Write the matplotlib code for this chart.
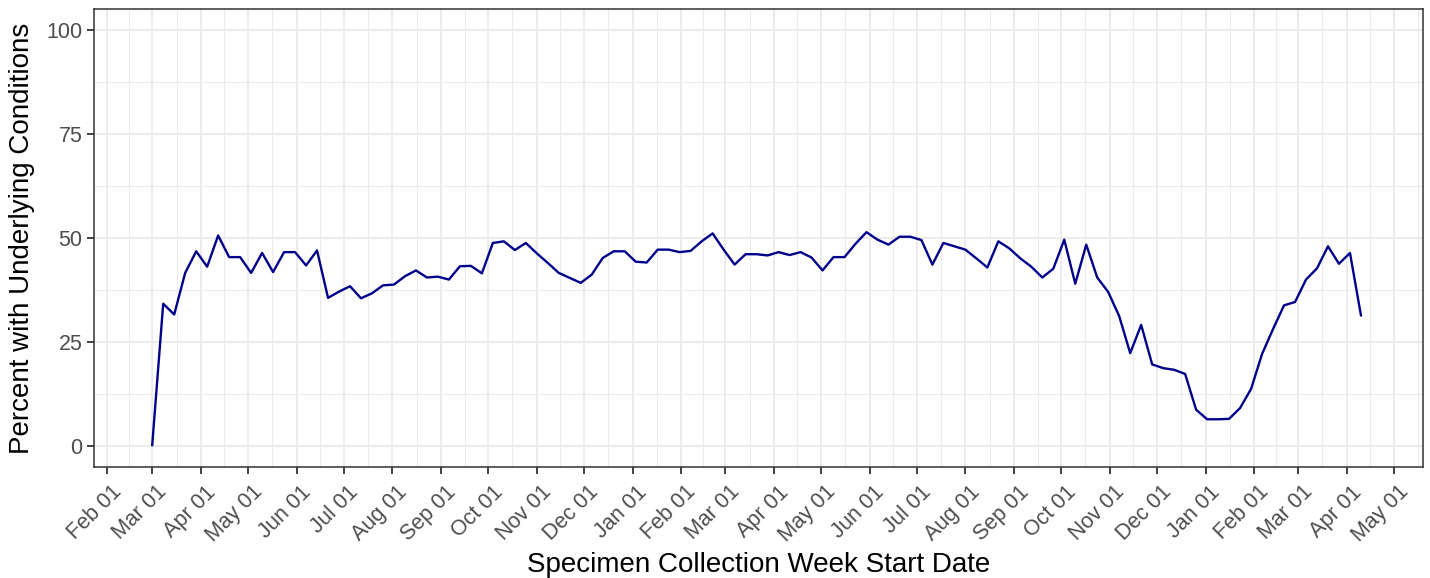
import numpy as np
import pandas as pd
import matplotlib
matplotlib.use("Agg")
import matplotlib.pyplot as plt
import matplotlib.dates as mdates
import matplotlib.transforms as mtransforms

plt.rcParams['font.family'] = ['Liberation Sans', 'DejaVu Sans']

# Weekly series, first week starting 2020-03-01
start_week = "2020-03-01"
pct_underlying = [
    0.2, 34.2, 31.6, 41.6, 46.8, 43.1, 50.6, 45.4, 45.4, 41.6,
    46.4, 41.8, 46.6, 46.6, 43.4, 47.0, 35.6, 37.1, 38.4, 35.5,
    36.7, 38.6, 38.8, 40.8, 42.2, 40.5, 40.7, 40.0, 43.2, 43.3,
    41.5, 48.8, 49.2, 47.1, 48.8, 46.3, 44.0, 41.6, 40.4, 39.2,
    41.2, 45.2, 46.8, 46.8, 44.3, 44.1, 47.2, 47.2, 46.6, 46.9,
    49.2, 51.1, 47.2, 43.6, 46.1, 46.1, 45.8, 46.6, 45.9, 46.6,
    45.3, 42.2, 45.4, 45.4, 48.6, 51.4, 49.6, 48.4, 50.3, 50.3,
    49.5, 43.6, 48.8, 48.0, 47.2, 45.1, 42.9, 49.2, 47.5, 45.1,
    43.1, 40.5, 42.6, 49.6, 39.0, 48.4, 40.5, 37.0, 31.2, 22.3,
    29.1, 19.6, 18.7, 18.3, 17.3, 8.7, 6.4, 6.4, 6.5, 9.1,
    13.7, 22.1, 28.1, 33.8, 34.6, 40.0, 42.7, 48.0, 43.8, 46.4,
    31.4,
]
weeks = pd.date_range(start_week, periods=len(pct_underlying), freq="7D")

y_ticks = [0, 25, 50, 75, 100]
y_minor = [12.5, 37.5, 62.5, 87.5]

# monthly breaks, minor grid halfway between them
month_starts = pd.date_range("2020-01-01", "2022-07-01", freq="MS")
month_mid = month_starts[:-1] + (month_starts[1:] - month_starts[:-1]) / 2

fig = plt.figure(figsize=(14.3, 5.78), dpi=100)
ax = fig.add_axes([0.0655, 0.1926, 0.9298, 0.7913])

grid_col = "#EBEBEB"
ax.set_axisbelow(True)
for yv in y_minor:
    ax.axhline(yv, color=grid_col, lw=0.8, zorder=0)
for d in month_mid:
    ax.axvline(d, color=grid_col, lw=0.8, zorder=0)
for yv in y_ticks:
    ax.axhline(yv, color=grid_col, lw=1.5, zorder=0)
for d in month_starts:
    ax.axvline(d, color=grid_col, lw=1.5, zorder=0)

ax.plot(weeks, pct_underlying, color="#00008B", lw=1.7, zorder=3)

ax.set_xlim(pd.Timestamp("2020-02-01") - pd.Timedelta(days=8.3),
            pd.Timestamp("2020-02-01") + pd.Timedelta(days=838.7))
ax.set_ylim(-5, 105)

ax.xaxis.set_major_locator(mdates.MonthLocator(bymonthday=1))
ax.xaxis.set_major_formatter(mdates.DateFormatter("%b %d"))
ax.set_yticks(y_ticks)

for s in ax.spines.values():
    s.set_color("#333333")
    s.set_linewidth(1.1)

ax.tick_params(axis="both", which="major", length=5, width=1.3,
               color="#333333", labelcolor="#4D4D4D", labelsize=15.5)
ax.tick_params(axis="x", pad=3)
ax.tick_params(axis="y", pad=3)
shift = mtransforms.ScaledTranslation(4 / 100, -4 / 100, fig.dpi_scale_trans)
for lab in ax.get_xticklabels():
    lab.set_rotation(45)
    lab.set_ha("right")
    lab.set_va("top")
    lab.set_rotation_mode("anchor")
    lab.set_transform(lab.get_transform() + shift)

ax.set_xlabel("Specimen Collection Week Start Date", fontsize=20, color="black", labelpad=4)
ax.set_ylabel("Percent with Underlying Conditions", fontsize=20, color="black", labelpad=8)

fig.savefig("out.png", dpi=100)
